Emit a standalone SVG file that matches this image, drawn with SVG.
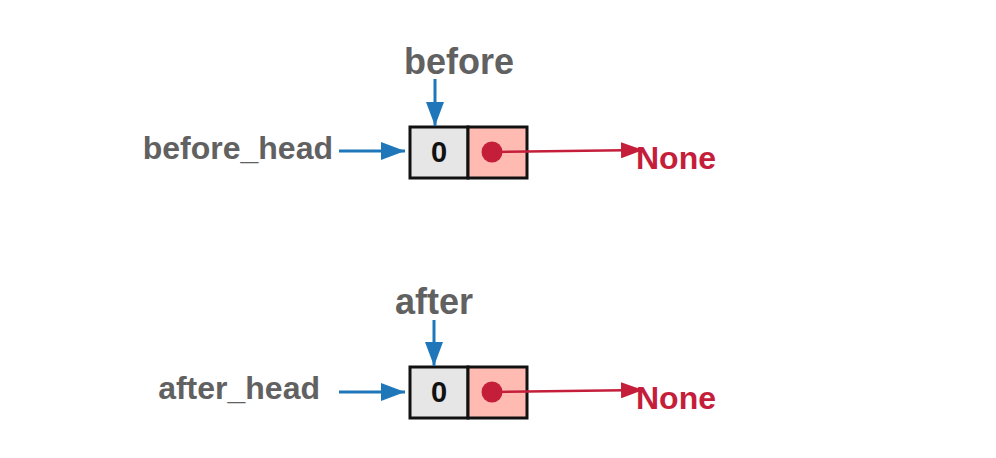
<svg xmlns="http://www.w3.org/2000/svg" width="996" height="458" viewBox="0 0 996 458">
<style>
.lbl{font-family:"Liberation Sans",Arial,sans-serif;font-weight:bold;fill:#616161}
.none{font-family:"Liberation Sans",Arial,sans-serif;font-weight:bold;fill:#c41e3a;font-size:32px}
.val{font-family:"Liberation Sans",Arial,sans-serif;font-weight:bold;fill:#111;font-size:29px;text-anchor:middle}
.cellL{fill:#e6e6e6;stroke:#111;stroke-width:3}
.cellR{fill:#ffbbb1;stroke:#111;stroke-width:3}
.blue{stroke:#1f77b9;stroke-width:3;fill:none}
.red{stroke:#c41e3a;stroke-width:2.5;fill:none}
</style>
<defs>
<marker id="ab" markerWidth="24" markerHeight="18" refX="24" refY="9" orient="auto" markerUnits="userSpaceOnUse"><path d="M0,0 L24,9 L0,18 Z" fill="#1f77b9"/></marker>
<marker id="ar" markerWidth="22" markerHeight="16" refX="22" refY="8" orient="auto" markerUnits="userSpaceOnUse"><path d="M0,0 L22,8 L0,16 Z" fill="#c41e3a"/></marker>
</defs>
<rect width="996" height="458" fill="#fff"/>
<g id="before_label"><text class="lbl" x="459" y="74" font-size="36" text-anchor="middle">before</text></g>
<g id="before_head_label"><text class="lbl" x="333" y="159" font-size="32" text-anchor="end">before_head</text></g>
<g id="node_before">
<rect class="cellL" x="410" y="127" width="58" height="51"/>
<rect class="cellR" x="468" y="127" width="59" height="51"/>
<text class="val" x="439" y="162">0</text>
<circle cx="492" cy="152" r="10.5" fill="#c41e3a"/>
</g>
<g id="none_top"><text class="none" x="636" y="169">None</text></g>
<g id="after_label"><text class="lbl" x="434" y="314" font-size="36" text-anchor="middle">after</text></g>
<g id="after_head_label"><text class="lbl" x="320" y="399" font-size="32" text-anchor="end">after_head</text></g>
<g id="node_after">
<rect class="cellL" x="410" y="367" width="58" height="51"/>
<rect class="cellR" x="468" y="367" width="59" height="51"/>
<text class="val" x="439" y="402">0</text>
<circle cx="492" cy="392" r="10.5" fill="#c41e3a"/>
</g>
<g id="none_bottom"><text class="none" x="636" y="409">None</text></g>
<g id="connectors">
<line class="blue" x1="435" y1="79" x2="435" y2="126" marker-end="url(#ab)"/>
<line class="blue" x1="339" y1="151" x2="405" y2="151" marker-end="url(#ab)"/>
<line class="red" x1="492" y1="152" x2="643" y2="150" marker-end="url(#ar)"/>
<line class="blue" x1="434" y1="320" x2="434" y2="366" marker-end="url(#ab)"/>
<line class="blue" x1="339" y1="392" x2="405" y2="392" marker-end="url(#ab)"/>
<line class="red" x1="492" y1="392" x2="643" y2="390" marker-end="url(#ar)"/>
</g>
</svg>
